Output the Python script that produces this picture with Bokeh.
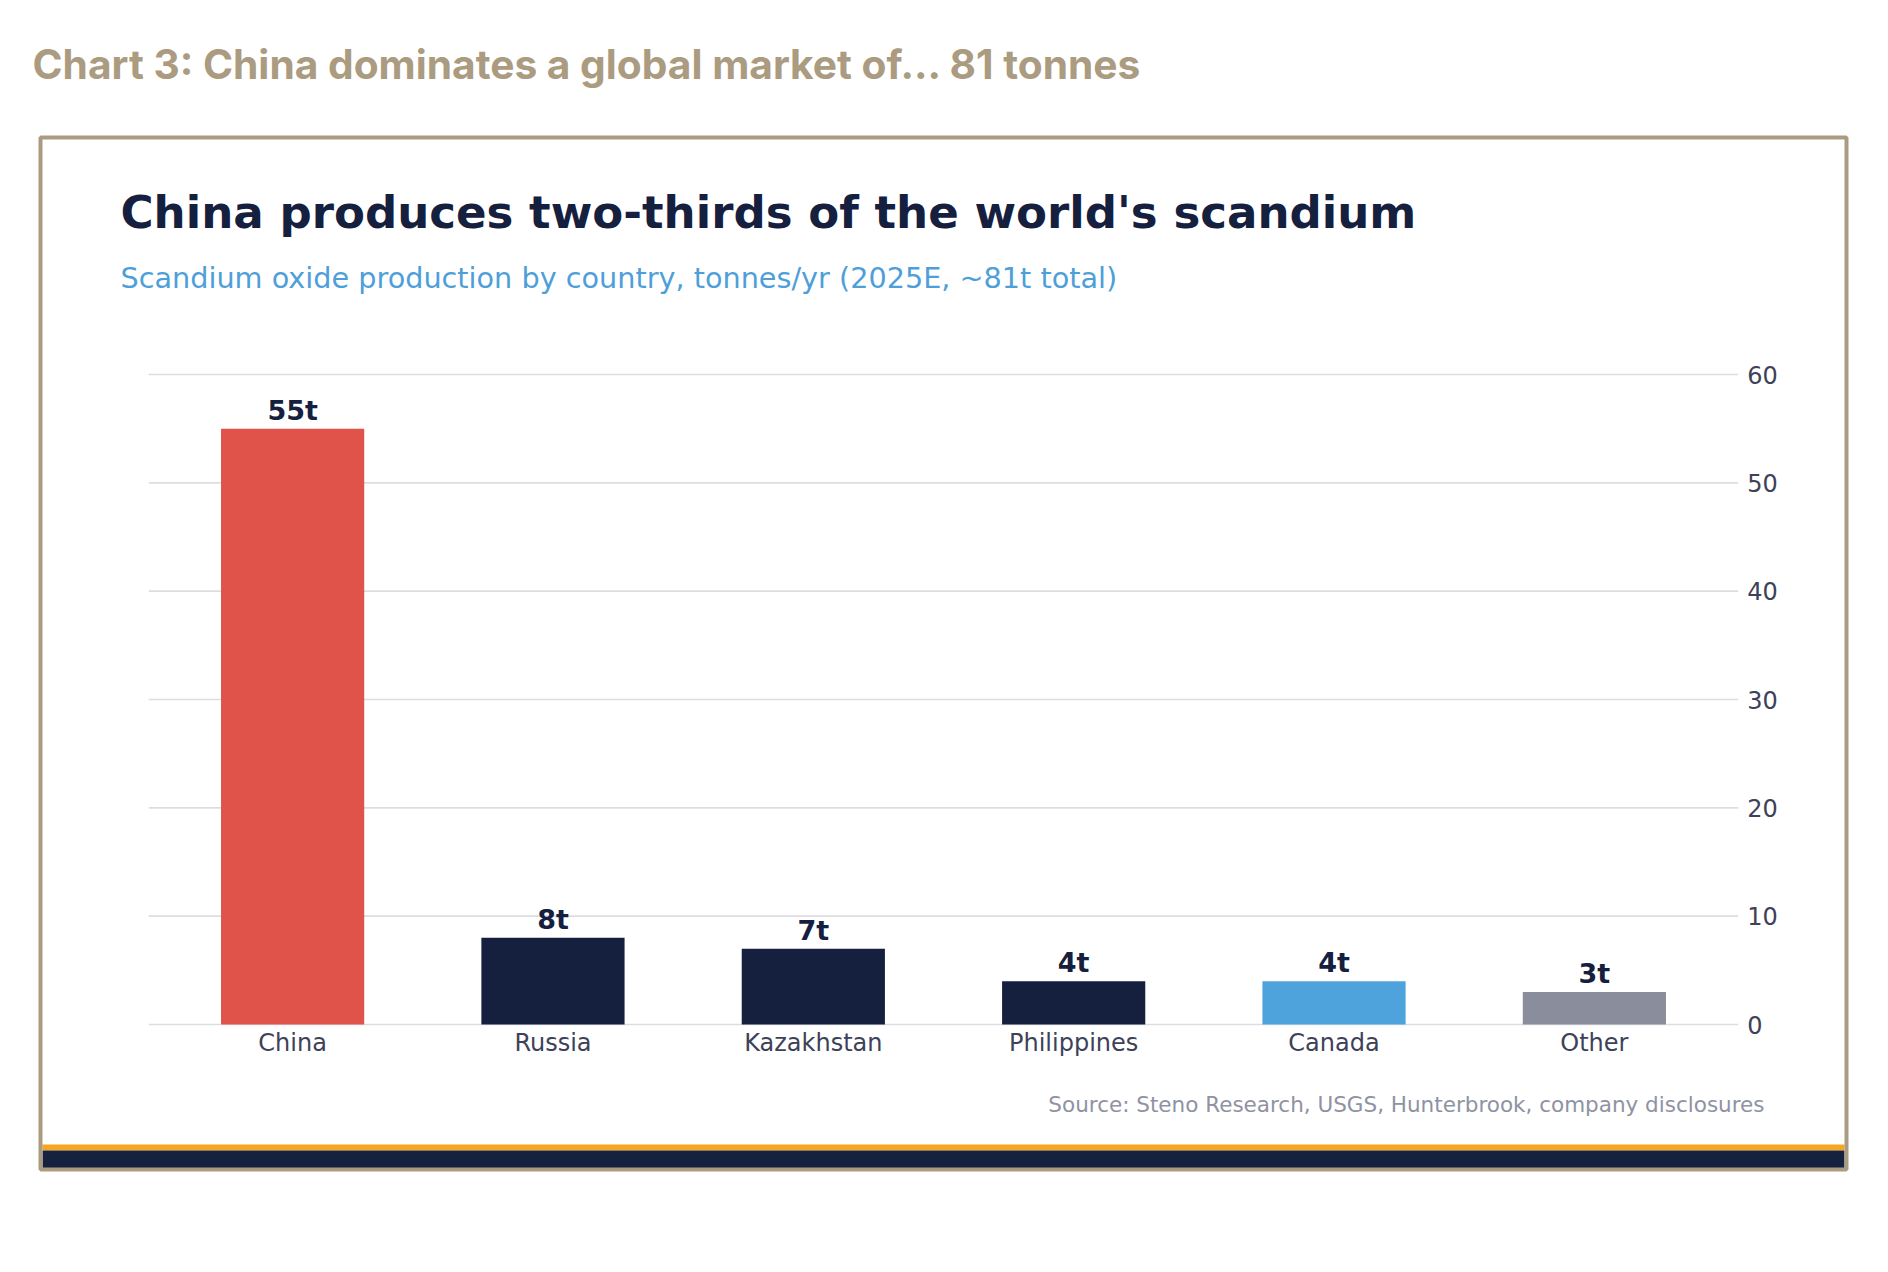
from bokeh.plotting import figure
from bokeh.models import FactorRange, Range1d, Label, BoxAnnotation, ColumnDataSource
from bokeh.core.properties import value
from bokeh.embed import file_html
from bokeh.resources import INLINE

# ---- data ----
categories = ["China", "Russia", "Kazakhstan", "Philippines", "Canada", "Other"]
production_t = [55, 8, 7, 4, 4, 3]
bar_colors = ["#E0534B", "#15203F", "#15203F", "#15203F", "#4EA3DC", "#8A8E9C"]
value_labels = [f"{v}t" for v in production_t]
y_ticks = [0, 10, 20, 30, 40, 50, 60]

page_title = "Chart 3: China dominates a global market of... 81 tonnes"
chart_title = "China produces two-thirds of the world's scandium"
chart_subtitle = "Scandium oxide production by country, tonnes/yr (2025E, ~81t total)"
source_note = "Source: Steno Research, USGS, Hunterbrook, company disclosures"

# ---- layout constants (pixels) ----
W, H = 1872, 1256
PX_PER_CAT = 260.35
X_CENTER = 943.0
MB_LEFT = round(2 * X_CENTER - W)
cat_pad = ((W - MB_LEFT) / PX_PER_CAT - len(categories)) / 2
GPAD = 0.0525
Y0_PX, YTOP_PX = 1024.0, 374.0
y_top = y_ticks[-1]
ppu = (Y0_PX - YTOP_PX) / y_top
y_start = -(H - Y0_PX) / ppu
y_end = y_top + YTOP_PX / ppu
LABEL_MID_PX = 18.5

TAN = "#AB9B80"
NAVY = "#15203F"
TICK = "#3D4258"

p = figure(
    width=W, height=H, title=None,
    x_range=FactorRange(factors=categories, range_padding=cat_pad, range_padding_units="absolute"),
    y_range=Range1d(y_start, y_end),
    y_axis_location="right",
    output_backend="svg", toolbar_location=None,
    min_border_left=MB_LEFT, min_border_right=0, min_border_top=0, min_border_bottom=0,
)
p.background_fill_color = "white"
p.border_fill_color = "white"
p.outline_line_color = None
p.xgrid.visible = False
p.ygrid.visible = False

# axes drawn at fixed data locations
p.xaxis.fixed_location = 0
p.xaxis.axis_line_color = None
p.xaxis.major_tick_line_color = None
p.xaxis.minor_tick_line_color = None
p.xaxis.major_tick_out = 0
p.xaxis.major_tick_in = 0
p.xaxis.major_label_standoff = 4
p.xaxis.major_label_text_font = "DejaVu Sans"
p.xaxis.major_label_text_font_size = "24px"
p.xaxis.major_label_text_color = TICK

p.yaxis.fixed_location = len(categories) + GPAD
p.yaxis.ticker = y_ticks
p.yaxis.axis_line_color = None
p.yaxis.major_tick_line_color = None
p.yaxis.minor_tick_line_color = None
p.yaxis.major_tick_out = 0
p.yaxis.major_tick_in = 0
p.yaxis.major_label_standoff = 9
p.yaxis.major_label_text_font = "DejaVu Sans"
p.yaxis.major_label_text_font_size = "24px"
p.yaxis.major_label_text_color = TICK

# horizontal grid lines at the y ticks
p.segment(x0=-GPAD, x1=len(categories) + GPAD, y0=y_ticks, y1=y_ticks,
          line_color="#DCDDE3", line_width=1.6)

src = ColumnDataSource(dict(cat=categories, val=production_t, color=bar_colors, lbl=value_labels,
                            lbl_y=[v + LABEL_MID_PX / ppu for v in production_t]))
p.vbar(x="cat", top="val", bottom=0, width=0.55, fill_color="color", line_color=None, source=src)
p.text(x="cat", y="lbl_y", text="lbl", source=src, text_align="center", text_baseline="middle",
       text_font=value("DejaVu Sans"), text_font_style="bold",
       text_font_size="27px", text_color=NAVY)

cu = dict(left_units="canvas", right_units="canvas", top_units="canvas", bottom_units="canvas")
# bottom bands then frame border
p.add_layout(BoxAnnotation(left=42, right=1844, top=1144, bottom=1150, fill_color="#F5A623",
                           fill_alpha=1, line_color=None, **cu))
p.add_layout(BoxAnnotation(left=42, right=1844, top=1150, bottom=1168, fill_color="#16203F",
                           fill_alpha=1, line_color=None, **cu))
p.add_layout(BoxAnnotation(left=40, right=1846, top=137, bottom=1169, fill_color=None, fill_alpha=0,
                           line_color=TAN, line_alpha=1, line_width=4, **cu))

# texts (anchored at the middle of the capital letters)
p.add_layout(Label(x=32, y=63.5, x_units="canvas", y_units="canvas", text=page_title,
                   text_font="Inter", text_font_style="bold", text_font_size="40.7px",
                   text_color=TAN, text_baseline="middle", text_align="left"))
p.add_layout(Label(x=120, y=212, x_units="canvas", y_units="canvas", text=chart_title,
                   text_font="DejaVu Sans", text_font_style="bold", text_font_size="45.1px",
                   text_color=NAVY, text_baseline="middle", text_align="left"))
p.add_layout(Label(x=120, y=277, x_units="canvas", y_units="canvas", text=chart_subtitle,
                   text_font="DejaVu Sans", text_font_size="28.7px",
                   text_color="#4E9FD9", text_baseline="middle", text_align="left"))
p.add_layout(Label(x=1764, y=1104, x_units="canvas", y_units="canvas", text=source_note,
                   text_font="DejaVu Sans", text_font_size="21.5px",
                   text_color="#8E92A2", text_baseline="middle", text_align="right"))

open("out.html", "w").write(file_html(p, INLINE))
